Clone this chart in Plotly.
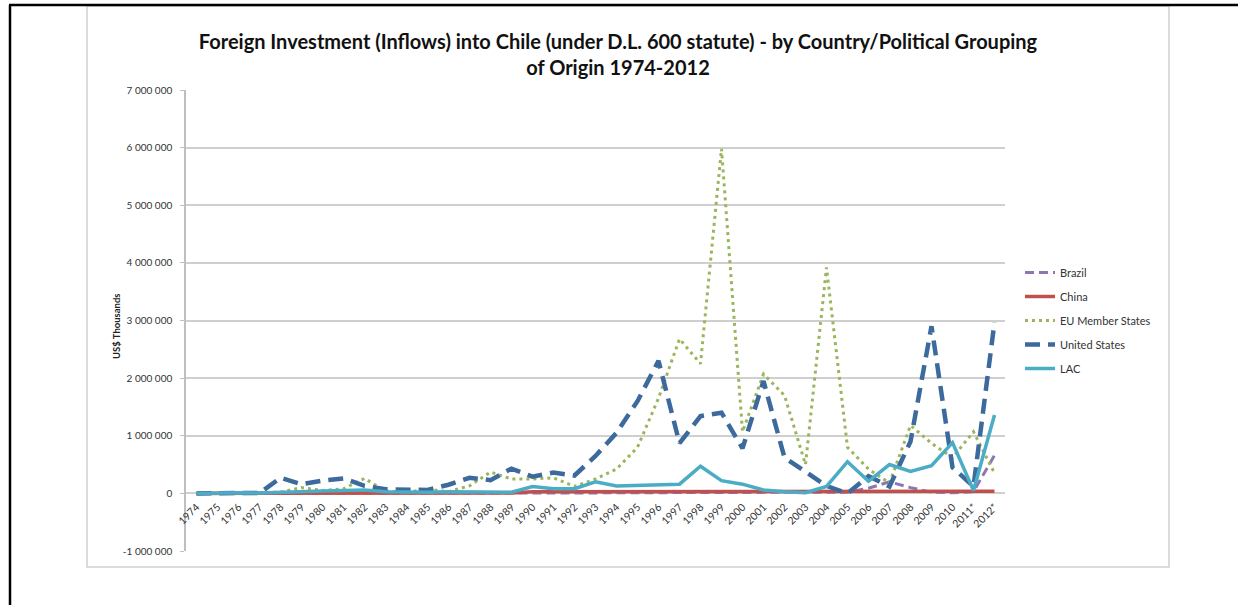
import plotly.graph_objects as go

# Years of record (the last two are provisional)
years = [str(y) for y in range(1974, 2011)] + ["2011*", "2012*"]

# Inflows by origin, US$ thousands
brazil = [0, 0, 0, 0, 0, 0, 0, 0, 0, 0, 0, 0, 0, 0, 0, 0, 5000, 5000, 5000, 10000,
          10000, 10000, 10000, 15000, 15000, 15000, 10000, 10000, 10000, 10000, 20000,
          20000, 90000, 200000, 100000, 20000, 10000, 30000, 660000]
china = [0, 0, 0, 0, 0, 0, 0, 5000, 8000, 8000, 8000, 8000, 8000, 8000, 8000, 8000,
         30000, 30000, 30000, 30000, 30000, 35000, 35000, 30000, 30000, 30000, 30000,
         30000, 30000, 25000, 25000, 25000, 25000, 25000, 25000, 25000, 30000, 30000, 35000]
eu = [0, 5000, 5000, 10000, 20000, 100000, 50000, 80000, 260000, 40000, 20000, 70000,
      30000, 130000, 370000, 250000, 250000, 270000, 120000, 250000, 420000, 800000,
      1650000, 2680000, 2250000, 5980000, 1070000, 2070000, 1700000, 500000, 3920000,
      800000, 420000, 180000, 1180000, 870000, 620000, 1070000, 350000]
united_states = [0, 10000, 5000, 5000, 270000, 160000, 220000, 260000, 130000, 70000,
                 70000, 60000, 150000, 270000, 230000, 430000, 290000, 360000, 310000,
                 650000, 1050000, 1600000, 2300000, 870000, 1340000, 1400000, 780000,
                 1950000, 620000, 370000, 130000, 0, 300000, 120000, 900000, 2900000,
                 450000, 120000, 2970000]
lac = [0, 10000, 10000, 5000, 20000, 30000, 40000, 50000, 60000, 30000, 20000, 20000,
       30000, 30000, 20000, 20000, 120000, 80000, 80000, 200000, 130000, 140000, 160000,
       160000, 470000, 220000, 160000, 60000, 30000, 10000, 120000, 550000, 210000,
       500000, 380000, 480000, 880000, 50000, 1360000]

y_ticks = [-1000000, 0, 1000000, 2000000, 3000000, 4000000, 5000000, 6000000, 7000000]
y_tick_text = ["-1 000 000", "0", "1 000 000", "2 000 000", "3 000 000", "4 000 000",
               "5 000 000", "6 000 000", "7 000 000"]

W, H = 1238, 605
FONT = "Lato"

series = [
    ("Brazil", brazil, dict(color="#8E76B5", width=3, dash="9px,5px")),
    ("China", china, dict(color="#C0504D", width=3.5)),
    ("EU Member States", eu, dict(color="#9AB55C", width=3, dash="3px,4px")),
    ("United States", united_states, dict(color="#3D6A9C", width=4.5, dash="15px,8px")),
    ("LAC", lac, dict(color="#4BACC6", width=3.5)),
]

fig = go.Figure()
for i, (name, vals, line) in enumerate(series):
    fig.add_trace(go.Scatter(x=years, y=vals, name=name, mode="lines", line=line,
                             legendgroup=f"g{i}"))

def px_x(x):
    return x / W

def px_y(y):
    return 1 - y / H

fig.update_layout(
    width=W, height=H,
    margin=dict(l=0, r=0, t=0, b=0),
    paper_bgcolor="white", plot_bgcolor="white",
    font=dict(family=FONT, color="#333333", size=10),
    showlegend=True,
    legend=dict(x=px_x(1020), y=px_y(258), xanchor="left", yanchor="top",
                font=dict(size=11, color="#333333"), tracegroupgap=5,
                bgcolor="rgba(0,0,0,0)", itemwidth=30),
    title=dict(text="Foreign Investment (Inflows) into Chile (under D.L. 600 statute) - by Country/Political Grouping<br>of Origin 1974-2012",
               x=px_x(618), xanchor="center", xref="paper",
               y=px_y(49), yanchor="middle", yref="paper",
               font=dict(family=FONT, size=20, color="#111111", weight="bold")),
    xaxis=dict(type="category", domain=[px_x(186), px_x(1005)],
               anchor="free", position=px_y(494),
               range=[-0.5, len(years) - 0.5],
               tickangle=-45, tickfont=dict(size=10.5, color="#333333"),
               ticklabelstandoff=4,
               showgrid=False, showline=False, zeroline=False, ticks="",
               automargin=False, fixedrange=True),
    yaxis=dict(domain=[px_y(551), px_y(90)], range=[-1000000, 7000000],
               tickmode="array", tickvals=y_ticks, ticktext=y_tick_text,
               tickfont=dict(size=10, color="#333333"),
               showgrid=True, gridcolor="#CFCFCF", gridwidth=1.5,
               zeroline=False, showline=True, linecolor="#BFBFBF", linewidth=1.5,
               ticks="outside", ticklen=4, tickcolor="#BFBFBF",
               ticklabelstandoff=6, automargin=False, fixedrange=True),
    annotations=[dict(text="<b>US$ Thousands</b>", textangle=-90,
                      x=px_x(116), y=px_y(326), xref="paper", yref="paper",
                      xanchor="center", yanchor="middle", showarrow=False,
                      font=dict(size=9.5, color="#222222"))],
    shapes=[
        # chart area frame
        dict(type="rect", xref="paper", yref="paper",
             x0=px_x(87), x1=px_x(1169), y0=px_y(567), y1=px_y(6),
             line=dict(color="#D0D0D0", width=1.5), layer="below"),
        # outer black rules
        dict(type="line", xref="paper", yref="paper",
             x0=px_x(9), x1=1, y0=px_y(5), y1=px_y(5),
             line=dict(color="black", width=2.5)),
        dict(type="line", xref="paper", yref="paper",
             x0=px_x(10), x1=px_x(10), y0=px_y(5), y1=0,
             line=dict(color="black", width=2.5)),
    ],
)

fig.write_html("out.html")
